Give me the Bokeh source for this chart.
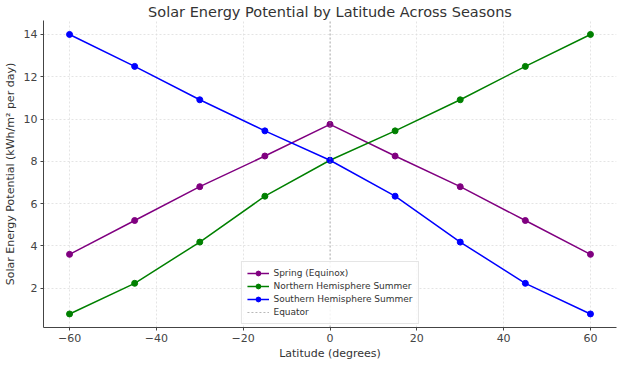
from bokeh.plotting import figure
from bokeh.models import Legend, LegendItem, Range1d, FixedTicker, ColumnDataSource
from bokeh.embed import file_html
from bokeh.resources import INLINE

latitude = [-60, -45, -30, -15, 0, 15, 30, 45, 60]
spring = [3.6, 5.2, 6.8, 8.25, 9.75, 8.25, 6.8, 5.2, 3.6]
northern_summer = [0.78, 2.23, 4.18, 6.35, 8.05, 9.44, 10.91, 12.49, 14.0]
southern_summer = [14.0, 12.49, 10.91, 9.44, 8.05, 6.35, 4.18, 2.23, 0.78]
equator_lat = 0
x_lo, x_hi = -66, 66
y_lo, y_hi = 0.14, 14.66
x_ticks = [-60, -40, -20, 0, 20, 40, 60]
y_ticks = [2, 4, 6, 8, 10, 12, 14]

FONT = "DejaVu Sans"

p = figure(width=618, height=362, output_backend="svg", toolbar_location=None,
           x_range=Range1d(x_lo, x_hi), y_range=Range1d(y_lo, y_hi),
           title="Solar Energy Potential by Latitude Across Seasons")
p.min_border_left = 2
p.min_border_right = 2
p.min_border_top = 2
p.min_border_bottom = 1

p.title.align = "center"
p.title.text_font = FONT
p.title.text_font_size = "14.5px"
p.title.text_font_style = "normal"
p.title.text_color = "#333333"
p.title.standoff = 2

p.outline_line_color = None
for ax in (p.xaxis[0], p.yaxis[0]):
    ax.axis_line_color = "#444444"
    ax.axis_line_width = 1
    ax.major_tick_line_color = "#444444"
    ax.major_tick_in = 0
    ax.major_tick_out = 3
    ax.minor_tick_line_color = None
    ax.major_label_text_font = FONT
    ax.major_label_text_font_size = "11px"
    ax.major_label_text_color = "#444444"
    ax.major_label_standoff = 3
    ax.axis_label_text_font = FONT
    ax.axis_label_text_font_size = "11px"
    ax.axis_label_text_font_style = "normal"
    ax.axis_label_text_color = "#333333"

p.xaxis.axis_label = "Latitude (degrees)"
p.yaxis.axis_label = "Solar Energy Potential (kWh/m² per day)"
p.xaxis.ticker = FixedTicker(ticks=x_ticks)
p.yaxis.ticker = FixedTicker(ticks=y_ticks)
p.xaxis.axis_label_standoff = 2
p.yaxis.axis_label_standoff = 4

p.grid.grid_line_color = "#dddddd"
p.grid.grid_line_dash = "2 2"
p.grid.grid_line_width = 0.8

src = ColumnDataSource(dict(lat=latitude, spring=spring, north=northern_summer, south=southern_summer))

items = []
for col, color, label in [("spring", "purple", "Spring (Equinox)"),
                          ("north", "green", "Northern Hemisphere Summer"),
                          ("south", "blue", "Southern Hemisphere Summer")]:
    l = p.line("lat", col, source=src, line_color=color, line_width=1.5)
    c = p.scatter("lat", col, source=src, size=6, fill_color=color, line_color=color)
    items.append(LegendItem(label=label, renderers=[l, c]))

eq_src = ColumnDataSource(dict(x=[equator_lat, equator_lat], y=[y_lo, y_hi]))
eq = p.line("x", "y", source=eq_src, line_color="#999999", line_dash="2 2", line_width=0.7)
items.append(LegendItem(label="Equator", renderers=[eq]))

legend = Legend(items=items, location="bottom_center")
legend.label_text_font = FONT
legend.label_text_font_size = "9px"
legend.label_text_color = "#333333"
legend.glyph_width = 22
legend.glyph_height = 12
legend.label_height = 12
legend.spacing = 1
legend.padding = 5
legend.margin = 3
legend.border_line_color = "#cccccc"
legend.background_fill_alpha = 0.85
p.add_layout(legend)

open("out.html", "w").write(file_html(p, INLINE))
